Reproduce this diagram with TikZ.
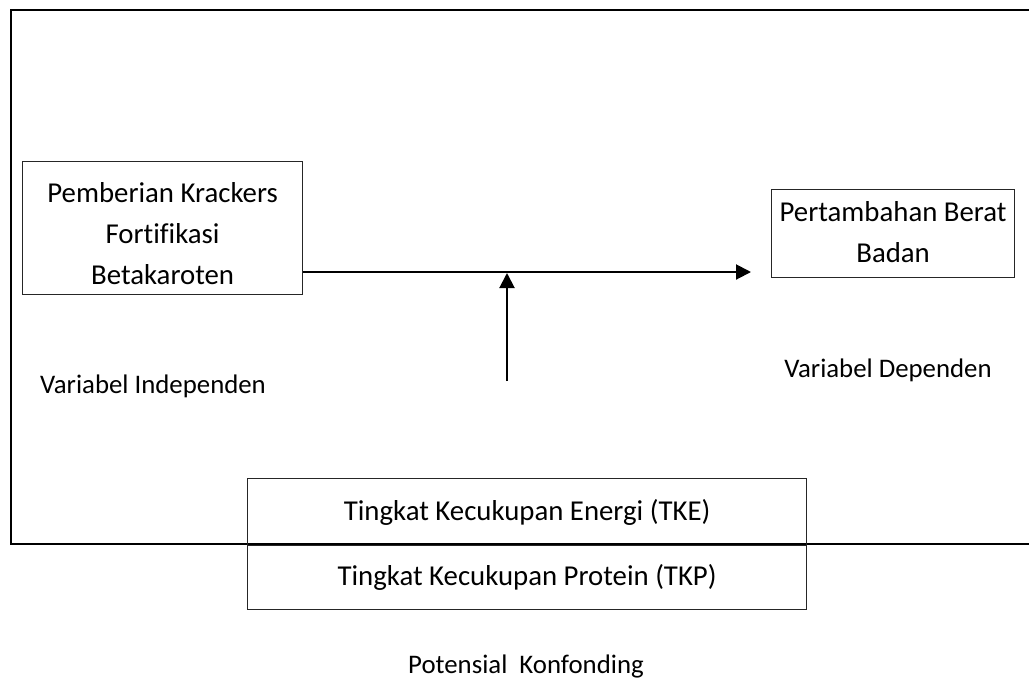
\documentclass[tikz,border=0pt]{standalone}
\usepackage{fontspec}
\setmainfont{Carlito}[Ligatures=NoCommon]
\usetikzlibrary{arrows.meta}
\begin{document}
\begin{tikzpicture}[x=0.5pt,y=-0.5pt,
  every node/.style={inner sep=0pt, text=black},
  boxfont/.style={font=\fontsize{14.4}{20.5}\selectfont},
  lblfont/.style={font=\fontsize{13.4}{20}\selectfont},
  boxnode/.style={draw=black!85, line width=0.6pt, anchor=north west},
  boxtext/.style={boxfont, align=center},
  frameline/.style={line width=1pt},
  arrowline/.style={line width=1pt, -{Triangle[length=7.5pt,width=7.5pt]}},
  lbl/.style={lblfont, anchor=center}]
\useasboundingbox (0,0) rectangle (1029,677);
% outer frame
\draw[frameline] (1035,10) -- (11,10) -- (11,544) -- (1035,544);
% boxes
\node[boxnode, minimum width=140pt, minimum height=66.5pt] (lb) at (22,161) {};
\node[boxtext, yshift=-2.5pt] (lbt) at (lb.center) {Pemberian Krackers\\Fortifikasi\\Betakaroten};
\node[boxnode, minimum width=121.5pt, minimum height=44pt] (rb) at (771,189) {};
\node[boxtext, yshift=1pt] (rbt) at (rb.center) {Pertambahan Berat\\Badan};
\node[boxnode, boxfont, minimum width=279.5pt, minimum height=33.5pt] (tke) at (247,478) {Tingkat Kecukupan Energi (TKE)};
\node[boxnode, boxfont, minimum width=279.5pt, minimum height=32pt] (tkp) at (247,545) {Tingkat Kecukupan Protein (TKP)};
% labels
\node[lbl] (vi) at (153,386) {Variabel Independen};
\node[lbl] (vd) at (888,370) {Variabel Dependen};
\node[lbl] (pk) at (526,666) {Potensial\ \ Konfonding};
% arrows
\coordinate (tip) at (751,272);
\coordinate (vtop) at (507,273);
\coordinate (vbot) at (507,381);
\draw[arrowline] (lb.east |- tip) -- (tip);
\draw[arrowline] (vbot) -- (vtop);
\end{tikzpicture}
\end{document}
